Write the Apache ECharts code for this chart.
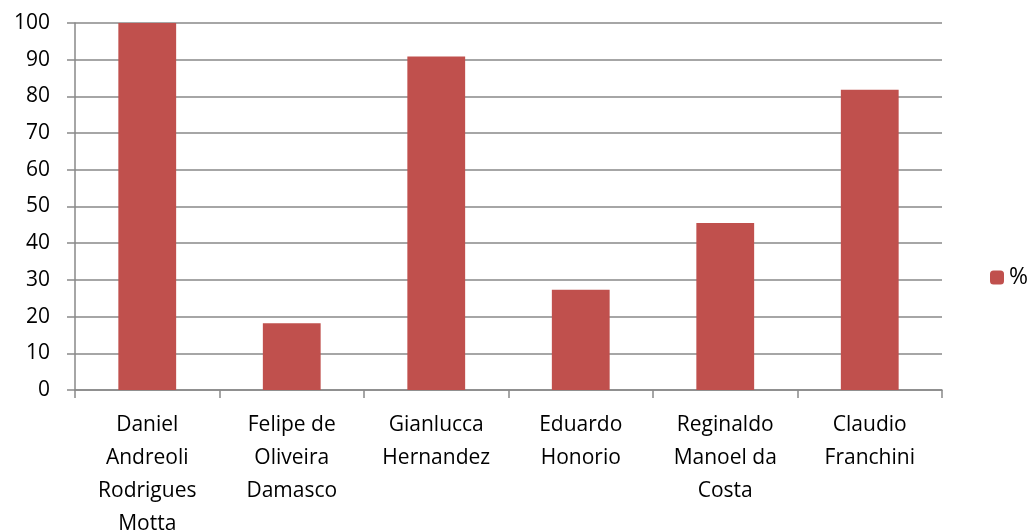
<!DOCTYPE html>
<html>
<head>
<meta charset="utf-8">
<script src="https://cdn.jsdelivr.net/npm/echarts@6/dist/echarts.min.js"></script>
<style>
  html, body { margin: 0; padding: 0; background: #fff; }
  #chart { width: 1027px; height: 532px; }
</style>
</head>
<body>
<div id="chart"></div>
<script>
// data
var categories = [
  'Daniel\nAndreoli\nRodrigues\nMotta',
  'Felipe de\nOliveira\nDamasco',
  'Gianlucca\nHernandez',
  'Eduardo\nHonorio',
  'Reginaldo\nManoel da\nCosta',
  'Claudio\nFranchini'
]
var percentValues = [100, 18.2, 90.9, 27.3, 45.5, 81.8]
var seriesName = '%'

var fontFamily = '"Open Sans", "Noto Sans", sans-serif'
var gridColor = '#898989'

var chart = echarts.init(document.getElementById('chart'))
chart.setOption({
  animation: false,
  textStyle: { fontFamily: fontFamily },
  grid: {
    left: 75, right: 85, top: 23, bottom: 142,
    containLabel: false,
    outerBoundsMode: 'none'
  },
  legend: {
    data: [seriesName],
    orient: 'vertical',
    left: 985,
    top: 261,
    itemWidth: 14,
    itemHeight: 14,
    itemGap: 6,
    textStyle: { fontSize: 23, color: '#000', fontFamily: fontFamily }
  },
  xAxis: {
    type: 'category',
    data: categories,
    axisLine: { show: true, lineStyle: { color: gridColor, width: 1.5 } },
    axisTick: { show: true, length: 8, alignWithLabel: false, lineStyle: { color: gridColor, width: 1.5 } },
    axisLabel: {
      interval: 0,
      margin: 19,
      fontSize: 21,
      lineHeight: 33,
      color: '#000',
      fontFamily: fontFamily
    }
  },
  yAxis: {
    type: 'value',
    min: 0,
    max: 100,
    interval: 10,
    axisLine: { show: true, lineStyle: { color: gridColor, width: 1.5 } },
    axisTick: { show: true, length: 8, lineStyle: { color: gridColor, width: 1.5 } },
    splitLine: { show: true, lineStyle: { color: gridColor, width: 1.5 } },
    axisLabel: { margin: 25, fontSize: 21, color: '#000', fontFamily: fontFamily }
  },
  series: [
    {
      name: seriesName,
      type: 'bar',
      data: percentValues,
      barWidth: '40%',
      itemStyle: { color: '#C0504D' }
    }
  ]
})
</script>
</body>
</html>
